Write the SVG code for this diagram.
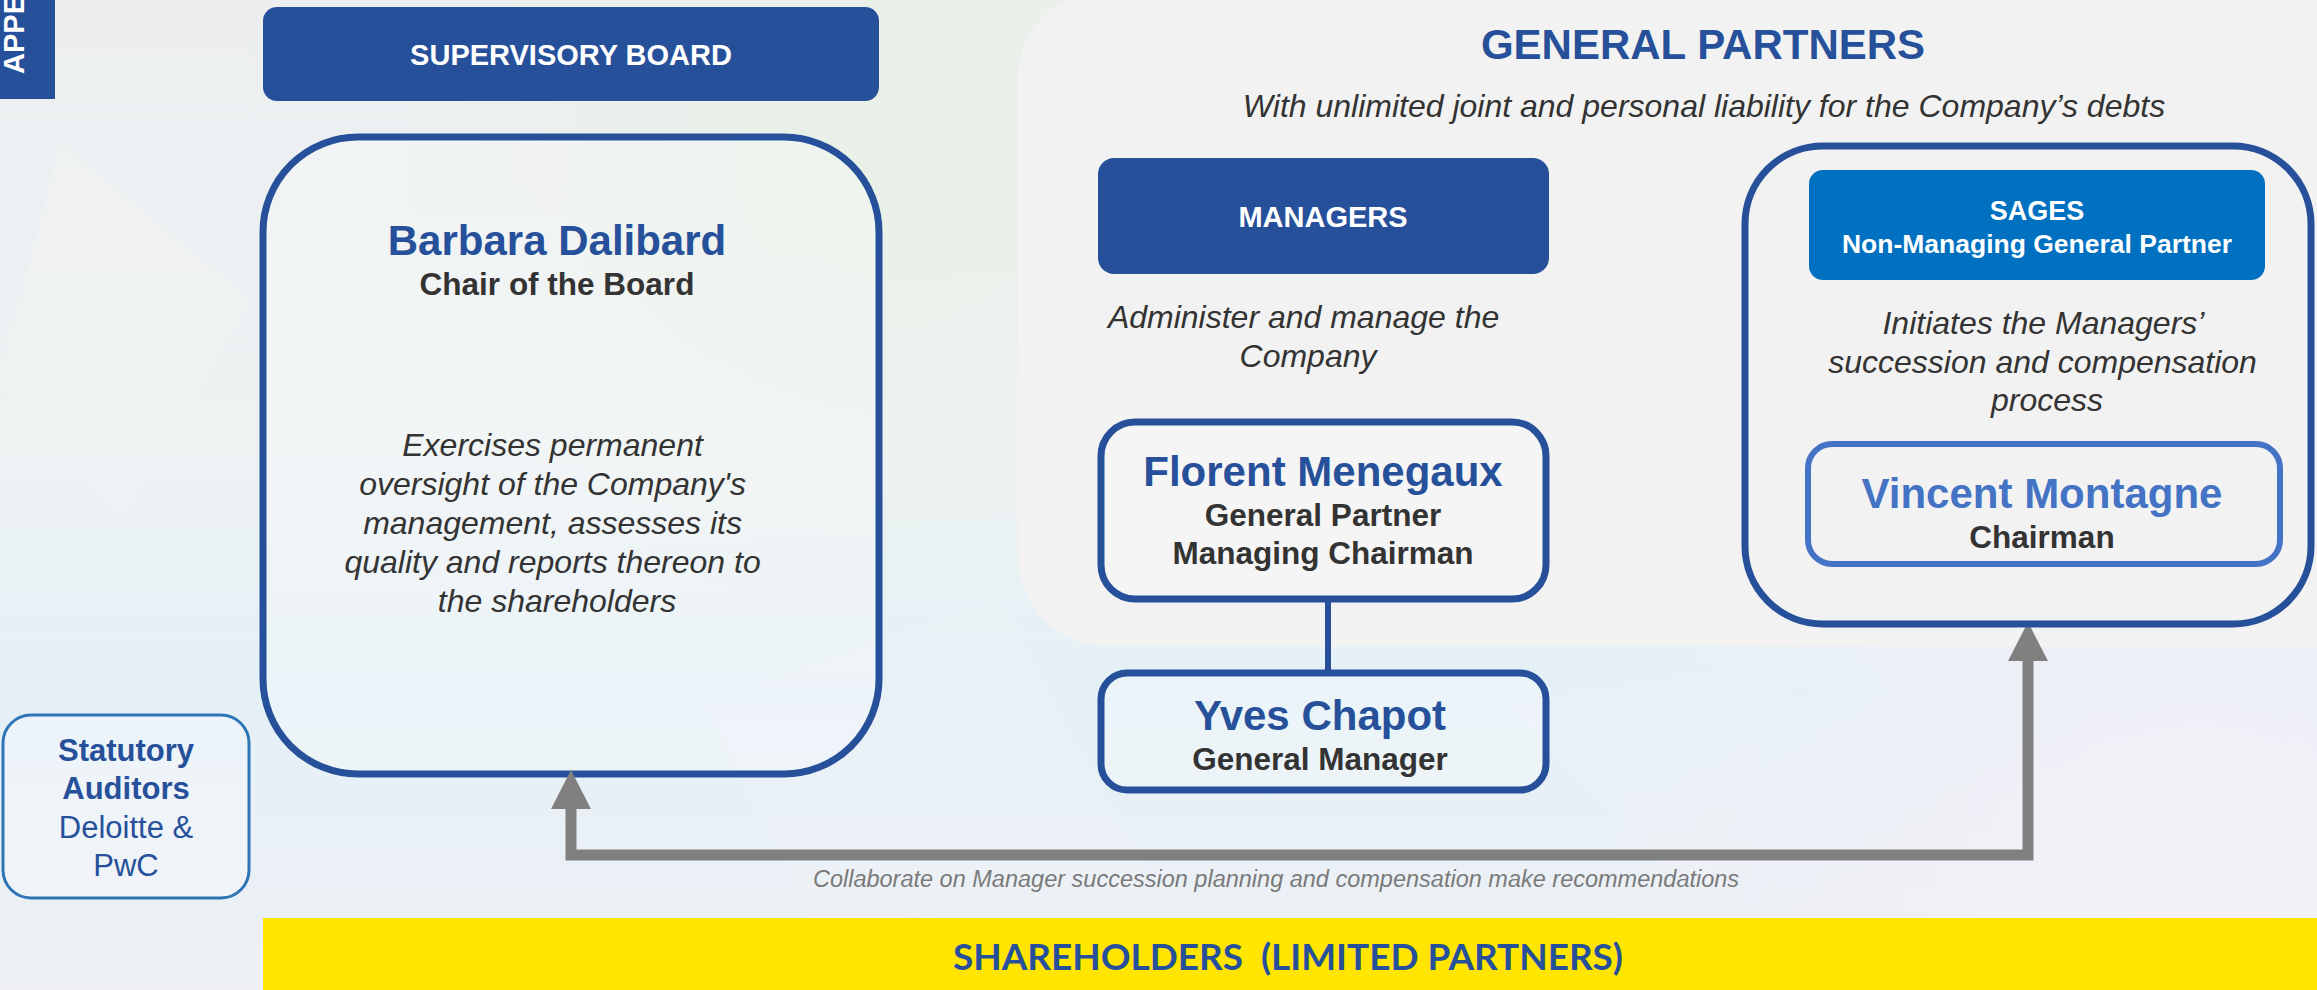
<svg xmlns="http://www.w3.org/2000/svg" width="2317" height="990" viewBox="0 0 2317 990">
  <defs>
    <linearGradient id="bg" x1="0" y1="0" x2="0" y2="1">
      <stop offset="0" stop-color="#eceef0"/>
      <stop offset="0.45" stop-color="#eef2f3"/>
      <stop offset="0.7" stop-color="#e4f0f6"/>
      <stop offset="1" stop-color="#eef0f5"/>
    </linearGradient>
    <radialGradient id="green" cx="900" cy="120" r="500" gradientUnits="userSpaceOnUse">
      <stop offset="0" stop-color="#e8f1e6" stop-opacity="0.9"/>
      <stop offset="1" stop-color="#e8f1e6" stop-opacity="0"/>
    </radialGradient>
    <radialGradient id="lav" cx="2200" cy="900" r="600" gradientUnits="userSpaceOnUse">
      <stop offset="0" stop-color="#f4f0f8" stop-opacity="1"/>
      <stop offset="1" stop-color="#f4f0f8" stop-opacity="0"/>
    </radialGradient>
    <marker id="ah" markerUnits="userSpaceOnUse" markerWidth="40" markerHeight="40" refX="0" refY="18" orient="auto-start-reverse" viewBox="0 0 36 36">
      <path d="M0,0 L35,18 L0,36 Z" fill="#808080"/>
    </marker>
    <style>
      .sans { font-family: "Liberation Sans", Arial, sans-serif; }
      .hdr { fill: #27509b; }
      .hdrtxt { fill: #ffffff; font-weight: bold; font-size: 29px; text-anchor: middle; }
      .name { fill: #27509b; font-weight: bold; font-size: 42px; text-anchor: middle; }
      .role { fill: #333333; font-weight: bold; font-size: 31.5px; text-anchor: middle; }
      .desc { fill: #333333; font-style: italic; font-size: 32px; text-anchor: middle; }
      .box { fill: #ffffff; fill-opacity: 0.25; stroke: #27509b; stroke-width: 7; }
    </style>
  </defs>

  <!-- background -->
  <rect x="0" y="0" width="2317" height="990" fill="url(#bg)"/>
  <rect x="0" y="0" width="2317" height="990" fill="url(#green)"/>
  <rect x="0" y="0" width="2317" height="990" fill="url(#lav)"/>
  <g opacity="0.12" fill="#ffffff">
    <polygon points="60,140 250,300 120,520 0,380"/>
    <polygon points="700,700 1000,600 1150,880 820,930"/>
    <polygon points="1500,700 1800,660 1700,900"/>
  </g>

  <!-- General partners panel -->
  <g id="general-partners-panel">
    <rect x="1018" y="-10" width="1400" height="656" rx="88" ry="88" fill="#f2f2f2"/>
    <text class="sans" x="1703" y="59" fill="#27509b" font-weight="bold" font-size="42" text-anchor="middle">GENERAL PARTNERS</text>
    <text class="sans desc" x="1704" y="117">With unlimited joint and personal liability for the Company’s debts</text>
  </g>

  <!-- Appendix tab -->
  <g id="appendix-tab">
    <rect x="0" y="0" width="55" height="99" fill="#27509b"/>
    <text class="sans" transform="translate(24,74) rotate(-90)" fill="#ffffff" font-weight="bold" font-size="29">APPE</text>
  </g>

  <!-- Supervisory board -->
  <g id="supervisory-board">
    <rect class="hdr" x="263" y="7" width="616" height="94" rx="14"/>
    <text class="sans hdrtxt" x="571" y="65">SUPERVISORY BOARD</text>
  </g>

  <g id="barbara-dalibard">
    <rect class="box" x="263" y="137" width="616" height="637" rx="95"/>
    <text class="sans name" x="557" y="255" font-size="40">Barbara Dalibard</text>
    <text class="sans role" x="557" y="295">Chair of the Board</text>
    <text class="sans desc" x="557" y="456">
      <tspan x="557" y="456">Exercises permanent</tspan>
      <tspan x="557" y="495">oversight of the Company's</tspan>
      <tspan x="557" y="534">management, assesses its</tspan>
      <tspan x="557" y="573">quality and reports thereon to</tspan>
      <tspan x="557" y="612">the shareholders</tspan>
    </text>
  </g>

  <!-- Statutory auditors -->
  <g id="statutory-auditors">
    <rect x="3" y="715" width="246" height="183" rx="28" fill="#ffffff" fill-opacity="0.3" stroke="#2e75b6" stroke-width="3"/>
    <text class="sans" x="126" y="761" fill="#27509b" font-size="31" font-weight="bold" text-anchor="middle">Statutory</text>
    <text class="sans" x="126" y="799" fill="#27509b" font-size="31" font-weight="bold" text-anchor="middle">Auditors</text>
    <text class="sans" x="126" y="838" fill="#27509b" font-size="31" text-anchor="middle">Deloitte &amp;</text>
    <text class="sans" x="126" y="876" fill="#27509b" font-size="31" text-anchor="middle">PwC</text>
  </g>

  <!-- Managers -->
  <g id="managers">
    <rect class="hdr" x="1098" y="158" width="451" height="116" rx="16"/>
    <text class="sans hdrtxt" x="1323" y="227">MANAGERS</text>
    <text class="sans desc" x="1308" y="328">
      <tspan x="1308" y="328">Administer and manage the</tspan>
      <tspan x="1308" y="367">Company</tspan>
    </text>
  </g>

  <!-- connectors -->
  <g id="connectors">
    <line x1="1328" y1="602" x2="1328" y2="670" stroke="#27509b" stroke-width="6"/>
    <path d="M571,809 V855 H2028 V661" fill="none" stroke="#808080" stroke-width="11" stroke-linejoin="miter" marker-start="url(#ah)" marker-end="url(#ah)"/>
    <text class="sans" x="1276" y="887" fill="#7a7a7a" font-style="italic" font-size="23.5" text-anchor="middle">Collaborate on Manager succession planning and compensation make recommendations</text>
  </g>

  <g id="florent-menegaux">
    <rect class="box" x="1101" y="422" width="445" height="177" rx="34" fill="#f2f2f2" fill-opacity="1"/>
    <text class="sans name" x="1323" y="486">Florent Menegaux</text>
    <text class="sans role" x="1323" y="526">General Partner</text>
    <text class="sans role" x="1323" y="564">Managing Chairman</text>
  </g>

  <g id="yves-chapot">
    <rect class="box" x="1101" y="673" width="445" height="117" rx="26"/>
    <text class="sans name" x="1320" y="730">Yves Chapot</text>
    <text class="sans role" x="1320" y="770">General Manager</text>
  </g>

  <!-- SAGES -->
  <g id="sages">
    <rect x="1745" y="146" width="566" height="478" rx="78" fill="none" stroke="#27509b" stroke-width="7"/>
    <rect x="1809" y="170" width="456" height="110" rx="14" fill="#0070c0"/>
    <text class="sans" x="2037" y="220" fill="#ffffff" font-weight="bold" font-size="27" text-anchor="middle">SAGES</text>
    <text class="sans" x="2037" y="253" fill="#ffffff" font-weight="bold" font-size="26.5" text-anchor="middle">Non-Managing General Partner</text>
    <text class="sans desc" x="2047" y="334">
      <tspan x="2047" y="334">Initiates the Managers’</tspan>
      <tspan x="2047" y="373">succession and compensation</tspan>
      <tspan x="2047" y="411">process</tspan>
    </text>
  </g>

  <g id="vincent-montagne">
    <rect x="1808" y="444" width="472" height="120" rx="24" fill="#f2f2f2" stroke="#4472c4" stroke-width="6"/>
    <text class="sans name" x="2042" y="508" style="fill:#4472c4">Vincent Montagne</text>
    <text class="sans role" x="2042" y="548">Chairman</text>
  </g>

  <!-- Shareholders -->
  <g id="shareholders">
    <rect x="263" y="918" width="2054" height="72" fill="#ffe500"/>
    <text x="1288" y="970" xml:space="preserve" fill="#27509b" font-family="Lato, 'Open Sans', sans-serif" font-weight="bold" font-size="37" text-anchor="middle" textLength="670" lengthAdjust="spacingAndGlyphs">SHAREHOLDERS  (LIMITED PARTNERS)</text>
  </g>
</svg>
